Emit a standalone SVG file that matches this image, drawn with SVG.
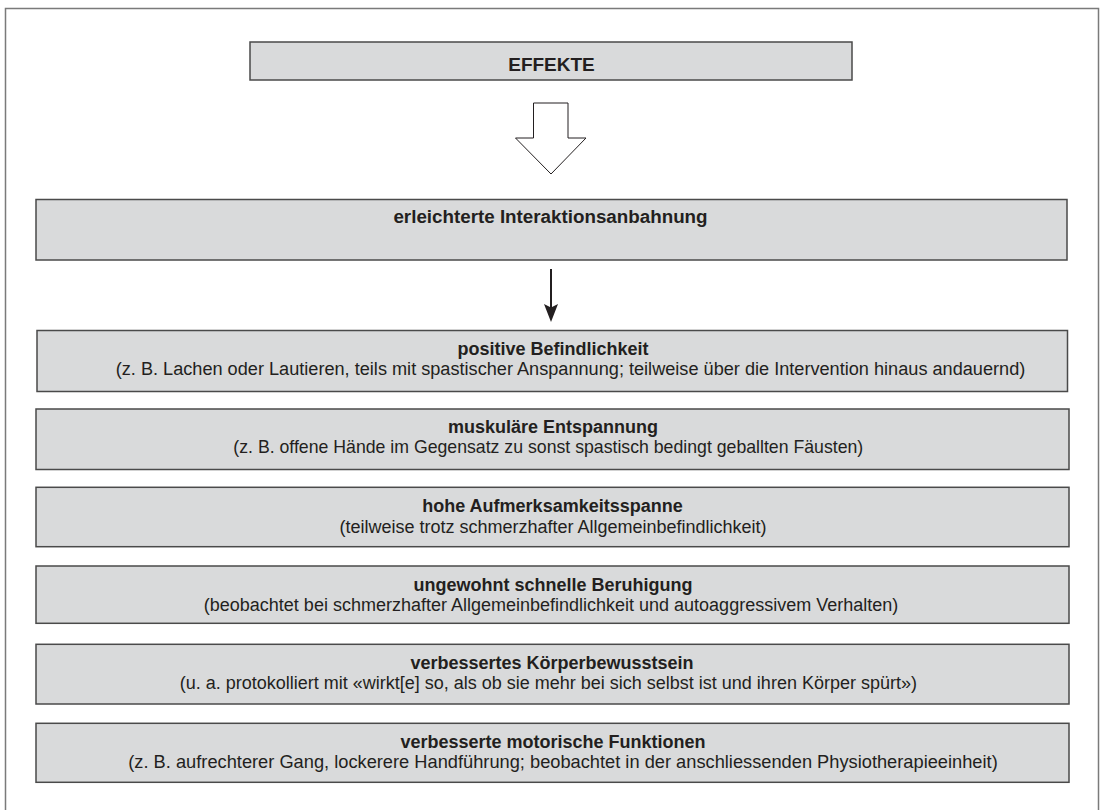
<svg xmlns="http://www.w3.org/2000/svg" width="1105" height="810" viewBox="0 0 1105 810">
<style>
.box{fill:#d9dadb;stroke:#4a4a4a;stroke-width:1.5}
.h{font-family:"Liberation Sans",Arial,sans-serif;font-weight:bold;font-size:18px;fill:#231f20;text-anchor:middle}
.s{font-family:"Liberation Sans",Arial,sans-serif;font-size:18px;fill:#231f20;text-anchor:middle}
</style>
<rect x="5.5" y="8.5" width="1093" height="820" fill="#fff" stroke="#7a7a7a" stroke-width="1.5"/>
<g id="effekte">
<rect class="box" x="250" y="42" width="602" height="38"/>
<text class="h" x="551.5" y="70.5" style="font-size:19px">EFFEKTE</text>
</g>
<g id="connectors">
<path d="M533.5,103 L568,103 L568,138 L586,138 L551,174 L515.5,138 L533.5,138 Z" fill="#fff" stroke="#231f20" stroke-width="1"/>
<line x1="551" y1="269" x2="551" y2="310" stroke="#231f20" stroke-width="2"/>
<path d="M544,304 L551,322 L558,304 L551,307.5 Z" fill="#231f20"/>
</g>
<g id="interaktion">
<rect class="box" x="36" y="199.5" width="1031" height="60.5"/>
<text class="h" x="550.5" y="223.3" style="font-size:18.8px">erleichterte Interaktionsanbahnung</text>
</g>
<g id="befindlichkeit">
<rect class="box" x="37" y="330.5" width="1030.5" height="61"/>
<text class="h" x="553" y="355">positive Befindlichkeit</text>
<text class="s" x="570.5" y="375" style="font-size:18.15px">(z. B. Lachen oder Lautieren, teils mit spastischer Anspannung; teilweise über die Intervention hinaus andauernd)</text>
</g>
<g id="entspannung">
<rect class="box" x="36" y="409" width="1033" height="60.5"/>
<text class="h" x="553" y="433.3">muskuläre Entspannung</text>
<text class="s" x="548.3" y="453.3" style="font-size:17.7px">(z. B. offene Hände im Gegensatz zu sonst spastisch bedingt geballten Fäusten)</text>
</g>
<g id="aufmerksamkeit">
<rect class="box" x="36" y="487.3" width="1033" height="59.4"/>
<text class="h" x="552.5" y="512.3">hohe Aufmerksamkeitsspanne</text>
<text class="s" x="553" y="532.7">(teilweise trotz schmerzhafter Allgemeinbefindlichkeit)</text>
</g>
<g id="beruhigung">
<rect class="box" x="36" y="566" width="1033" height="57.3"/>
<text class="h" x="553" y="590.7">ungewohnt schnelle Beruhigung</text>
<text class="s" x="551" y="610.7">(beobachtet bei schmerzhafter Allgemeinbefindlichkeit und autoaggressivem Verhalten)</text>
</g>
<g id="koerperbewusstsein">
<rect class="box" x="36" y="644.3" width="1033" height="59.7"/>
<text class="h" x="552" y="669.3">verbessertes Körperbewusstsein</text>
<text class="s" x="548.3" y="689.3">(u. a. protokolliert mit «wirkt[e] so, als ob sie mehr bei sich selbst ist und ihren Körper spürt»)</text>
</g>
<g id="motorik">
<rect class="box" x="36" y="723.3" width="1033" height="59"/>
<text class="h" x="553" y="747.7">verbesserte motorische Funktionen</text>
<text class="s" x="563" y="767.7" style="font-size:18.25px">(z. B. aufrechterer Gang, lockerere Handführung; beobachtet in der anschliessenden Physiotherapieeinheit)</text>
</g>
</svg>
